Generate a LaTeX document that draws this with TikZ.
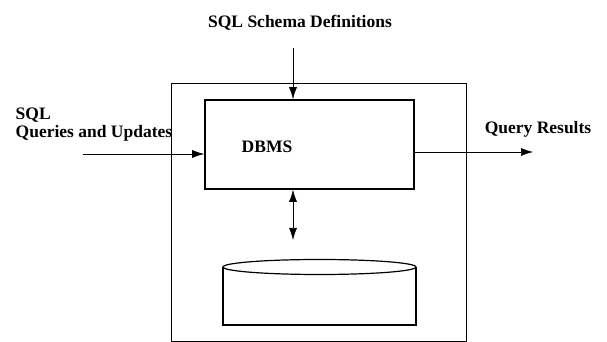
\documentclass[tikz,border=0pt]{standalone}
\usepackage{fontspec}
\setmainfont{Liberation Serif}
\usetikzlibrary{arrows.meta,positioning}

\begin{document}
\begin{tikzpicture}
	[x=1pt, y=1pt,
	txt/.style = {font=\bfseries\fontsize{17.5}{20}\selectfont, inner sep=0},
	sysbox/.style = {rectangle, draw, thick, inner sep=0},
	dbmsbox/.style = {rectangle, draw, line width=1.6pt, inner sep=0, minimum width=209, minimum height=89},
	post/.style = {-{Latex[length=12pt,width=8pt]}, semithick},
	both/.style = {{Latex[length=12pt,width=8pt]}-{Latex[length=12pt,width=8pt]}, semithick}]
	\useasboundingbox (0,0) rectangle (607,342);
	% system boundary and DBMS
	\node (system) [sysbox, minimum width=294.5, minimum height=258] at (318.75,130) {};
	\node (dbms) [dbmsbox] at (309.5,197.5) {};
	\node (dbmslbl) [txt] at (267,195) {DBMS};
	% labels
	\node (schema) [txt] at (300,319) {SQL Schema Definitions};
	\node (sql) [txt, anchor=west] at (15.5,227) {SQL};
	\node (queries) [txt, anchor=west] at (15.5,209) {Queries and Updates};
	\node (results) [txt] at (538,213) {Query Results};
	% free ends
	\coordinate (schema in) at (293,294);
	\coordinate (query in) at (83,188);
	\coordinate (result out) at (533,190);
	\coordinate (db top) at (293,102);
	% database
	\draw[line width=1.2pt] (223,75) -- (223,17) -- (416,17) -- (416,75);
	\draw[line width=1.2pt] (319.5,75) ellipse [x radius=96.5, y radius=7.5];
	% flows
	\draw[post] (schema in) -- (dbms.north -| schema in);
	\draw[post] (query in) -- (dbms.west |- query in);
	\draw[post] (dbms.east |- result out) -- (result out);
	\draw[both] (dbms.south -| db top) -- (db top);
\end{tikzpicture}
\end{document}
